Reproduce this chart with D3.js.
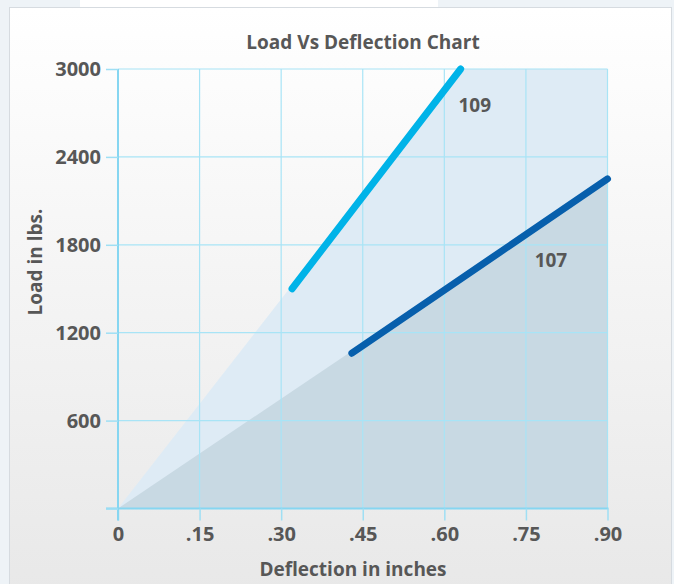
<!DOCTYPE html>
<html>
<head>
<meta charset="utf-8">
<script src="https://cdn.jsdelivr.net/npm/d3@7"></script>
<style>
  body { margin: 0; background: #eef3f7; }
  svg { display: block; }
  text { font-family: "Open Sans", sans-serif; font-weight: 700; fill: #575757; }
</style>
</head>
<body>
<script>
// chart data
const deflectionTicks = [0, 0.15, 0.30, 0.45, 0.60, 0.75, 0.90];
const deflectionLabels = ["0", ".15", ".30", ".45", ".60", ".75", ".90"];
const loadTicks = [0, 600, 1200, 1800, 2400, 3000];
const loadLabels = ["", "600", "1200", "1800", "2400", "3000"];

const models = ["109", "107"];
const deflection109 = [0.32, 0.63];
const load109 = [1500, 3000];
const deflection107 = [0.43, 0.90];
const load107 = [1060, 2250];

// shaded zones under each model's line (they run back to the origin)
const zone109X = [0, 0.63, 0.90];
const zone109Y = [0, 3000, 3000];
const zone107X = [0, 0.90];
const zone107Y = [0, 2250];

// where the model names sit, in data units
const labelDeflection = [0.656, 0.796];
const labelLoad = [2757, 1698];

const W = 674, H = 584;
const margin = { top: 69, right: 66.5, bottom: 75.5, left: 118 };

var svg = d3.select("body").append("svg")
    .attr("width", W)
    .attr("height", H);

var defs = svg.append("defs");
var grad = defs.append("linearGradient")
    .attr("id", "cardbg")
    .attr("x1", 0).attr("y1", 0).attr("x2", 0).attr("y2", 1);
grad.append("stop").attr("offset", "0%").attr("stop-color", "#ffffff");
grad.append("stop").attr("offset", "100%").attr("stop-color", "#e8e8e8");

// page bits behind the card
svg.append("rect")
    .attr("x", 80).attr("y", 0).attr("width", 358).attr("height", 10)
    .attr("fill", "#ffffff");
svg.append("rect")
    .attr("x", 9.5).attr("y", 7.5).attr("width", 662).attr("height", 590)
    .attr("fill", "url(#cardbg)")
    .attr("stroke", "#d6dbe0");

var x = d3.scaleLinear()
    .domain([0, 0.9])
    .range([margin.left, W - margin.right]);
var y = d3.scaleLinear()
    .domain([0, 3000])
    .range([H - margin.bottom, margin.top]);

// shaded zones
var zone = d3.line().x(d => x(d[0])).y(d => y(d[1]));
var z109 = zone109X.map((d, i) => [d, zone109Y[i]]).concat([[0.9, 0]]);
var z107 = zone107X.map((d, i) => [d, zone107Y[i]]).concat([[0.9, 0]]);
svg.append("path")
    .attr("d", zone(z109) + "Z")
    .attr("fill", "#deebf5");
svg.append("path")
    .attr("d", zone(z107) + "Z")
    .attr("fill", "#c8d9e3");

// grid
svg.append("g").selectAll("line")
    .data(loadTicks.slice(1))
    .enter().append("line")
    .attr("x1", x(0)).attr("x2", x(0.9))
    .attr("y1", d => y(d)).attr("y2", d => y(d))
    .attr("stroke", "#a8e4f6")
    .attr("stroke-width", 1.2);
svg.append("g").selectAll("line")
    .data(deflectionTicks.slice(1))
    .enter().append("line")
    .attr("x1", d => x(d)).attr("x2", d => x(d))
    .attr("y1", y(0)).attr("y2", y(3000))
    .attr("stroke", "#a8e4f6")
    .attr("stroke-width", 1.2);

// axes
var xAxis = d3.axisBottom(x)
    .tickValues(deflectionTicks)
    .tickFormat((d, i) => deflectionLabels[i])
    .tickSize(12)
    .tickPadding(6);
var yAxis = d3.axisLeft(y)
    .tickValues(loadTicks)
    .tickFormat((d, i) => loadLabels[i])
    .tickSize(12)
    .tickPadding(5);

var gx = svg.append("g")
    .attr("transform", `translate(0,${y(0)})`)
    .call(xAxis);
var gy = svg.append("g")
    .attr("transform", `translate(${x(0)},0)`)
    .call(yAxis);

[gx, gy].forEach(g => {
    g.select(".domain").attr("stroke", "#86d6f1").attr("stroke-width", 2);
    g.selectAll(".tick line").attr("stroke", "#9fdff4").attr("stroke-width", 1.5);
    g.selectAll(".tick text")
        .style("font-size", "20px")
        .attr("fill", "#575757");
});
gx.select(".domain").attr("d", `M${x(0) - 12},0H${x(0.9) + 1}`);
gy.select(".domain").attr("d", `M0,${y(3000)}V${y(0) + 12}`);

// model lines
var line = d3.line().x(d => x(d[0])).y(d => y(d[1]));
var series = [
    { name: models[0], pts: deflection109.map((d, i) => [d, load109[i]]), color: "#00b3e8" },
    { name: models[1], pts: deflection107.map((d, i) => [d, load107[i]]), color: "#075fac" }
];
svg.selectAll(".model")
    .data(series)
    .enter().append("path")
    .attr("class", "model")
    .attr("d", d => line(d.pts))
    .attr("fill", "none")
    .attr("stroke", d => d.color)
    .attr("stroke-width", 7)
    .attr("stroke-linecap", "round");

svg.selectAll(".mlabel")
    .data(models)
    .enter().append("text")
    .attr("class", "mlabel")
    .attr("x", (d, i) => x(labelDeflection[i]))
    .attr("y", (d, i) => y(labelLoad[i]))
    .attr("text-anchor", "middle")
    .attr("dominant-baseline", "central")
    .style("font-size", "19px")
    .text(d => d);

// titles
svg.append("text")
    .attr("x", 363)
    .attr("y", 42)
    .attr("text-anchor", "middle")
    .attr("dominant-baseline", "central")
    .style("font-size", "19px")
    .text("Load Vs Deflection Chart");

svg.append("text")
    .attr("x", 353)
    .attr("y", 569)
    .attr("text-anchor", "middle")
    .attr("dominant-baseline", "central")
    .style("font-size", "19px")
    .text("Deflection in inches");

svg.append("text")
    .attr("transform", "translate(35,262) rotate(-90)")
    .attr("text-anchor", "middle")
    .attr("dominant-baseline", "central")
    .style("font-size", "19px")
    .text("Load in lbs.");
</script>
</body>
</html>
